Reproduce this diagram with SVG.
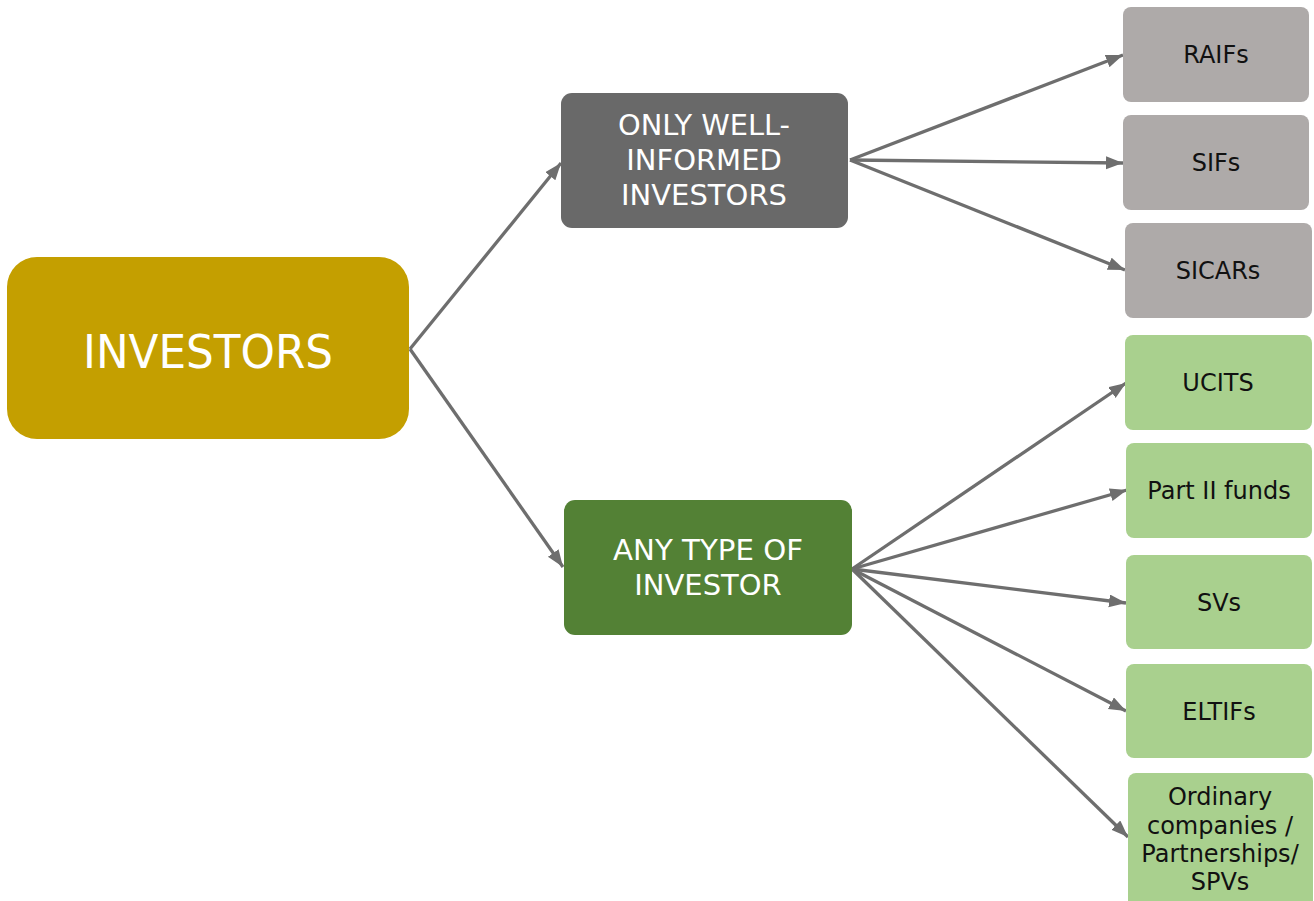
<svg xmlns="http://www.w3.org/2000/svg" width="1314" height="901" viewBox="0 0 1314 901">
<defs>
<marker id="arr" markerUnits="userSpaceOnUse" markerWidth="20" markerHeight="16" refX="17" refY="6.5" orient="auto">
<path d="M0,0 L17,6.5 L0,13 z" fill="#6E6E6E"/>
</marker>
<style>
text{font-family:"DejaVu Sans","Liberation Sans",sans-serif;text-anchor:middle}
.w{fill:#FFFFFF}
.k{fill:#111111;font-size:24px}
.gray{fill:#AEAAA9}
.green{fill:#A9D08E}
.conn line{stroke:#6E6E6E;stroke-width:3.3;fill:none;marker-end:url(#arr)}
</style>
</defs>
<rect width="1314" height="901" fill="#FFFFFF"/>
<g class="conn" id="connectors">
<line x1="410" y1="349" x2="561" y2="163"/>
<line x1="410" y1="349" x2="563" y2="567"/>
<line x1="850" y1="160" x2="1123" y2="55"/>
<line x1="850" y1="160" x2="1123" y2="163"/>
<line x1="850" y1="160" x2="1125" y2="270"/>
<line x1="852" y1="569" x2="1126" y2="383"/>
<line x1="852" y1="569" x2="1127" y2="490"/>
<line x1="852" y1="569" x2="1126" y2="603"/>
<line x1="852" y1="569" x2="1126" y2="711"/>
<line x1="852" y1="569" x2="1128" y2="837"/>
</g>
<g id="investors">
<rect x="7" y="257" width="402" height="182" rx="30" fill="#C49F00"/>
<text x="208" y="368" class="w" font-size="47" textLength="250" lengthAdjust="spacingAndGlyphs">INVESTORS</text>
</g>
<g id="well-informed">
<rect x="561" y="93" width="287" height="135" rx="11" fill="#696969"/>
<text class="w" font-size="29" x="704" y="135" textLength="172" lengthAdjust="spacingAndGlyphs">ONLY WELL-</text>
<text class="w" font-size="29" x="704" y="170">INFORMED</text>
<text class="w" font-size="29" x="704" y="205">INVESTORS</text>
</g>
<g id="any-type">
<rect x="564" y="500" width="288" height="135" rx="11" fill="#538135"/>
<text class="w" font-size="29" x="708" y="560" textLength="190" lengthAdjust="spacingAndGlyphs">ANY TYPE OF</text>
<text class="w" font-size="29" x="708" y="595">INVESTOR</text>
</g>
<g id="raifs">
<rect x="1123" y="7" width="186" height="95" rx="8" class="gray"/>
<text class="k" x="1216" y="63">RAIFs</text>
</g>
<g id="sifs">
<rect x="1123" y="115" width="186" height="95" rx="8" class="gray"/>
<text class="k" x="1216" y="171">SIFs</text>
</g>
<g id="sicars">
<rect x="1125" y="223" width="187" height="95" rx="8" class="gray"/>
<text class="k" x="1218" y="279">SICARs</text>
</g>
<g id="ucits">
<rect x="1125" y="335" width="187" height="95" rx="8" class="green"/>
<text class="k" x="1218" y="391">UCITS</text>
</g>
<g id="part2">
<rect x="1126" y="443" width="186" height="95" rx="8" class="green"/>
<text class="k" x="1219" y="499">Part II funds</text>
</g>
<g id="svs">
<rect x="1126" y="555" width="186" height="94" rx="8" class="green"/>
<text class="k" x="1219" y="611">SVs</text>
</g>
<g id="eltifs">
<rect x="1126" y="664" width="186" height="94" rx="8" class="green"/>
<text class="k" x="1219" y="720">ELTIFs</text>
</g>
<g id="ordinary">
<rect x="1128" y="773" width="185" height="140" rx="8" class="green"/>
<text class="k" x="1220" y="805">Ordinary</text>
<text class="k" x="1220" y="834">companies /</text>
<text class="k" x="1220" y="862">Partnerships/</text>
<text class="k" x="1220" y="890">SPVs</text>
</g>
</svg>
